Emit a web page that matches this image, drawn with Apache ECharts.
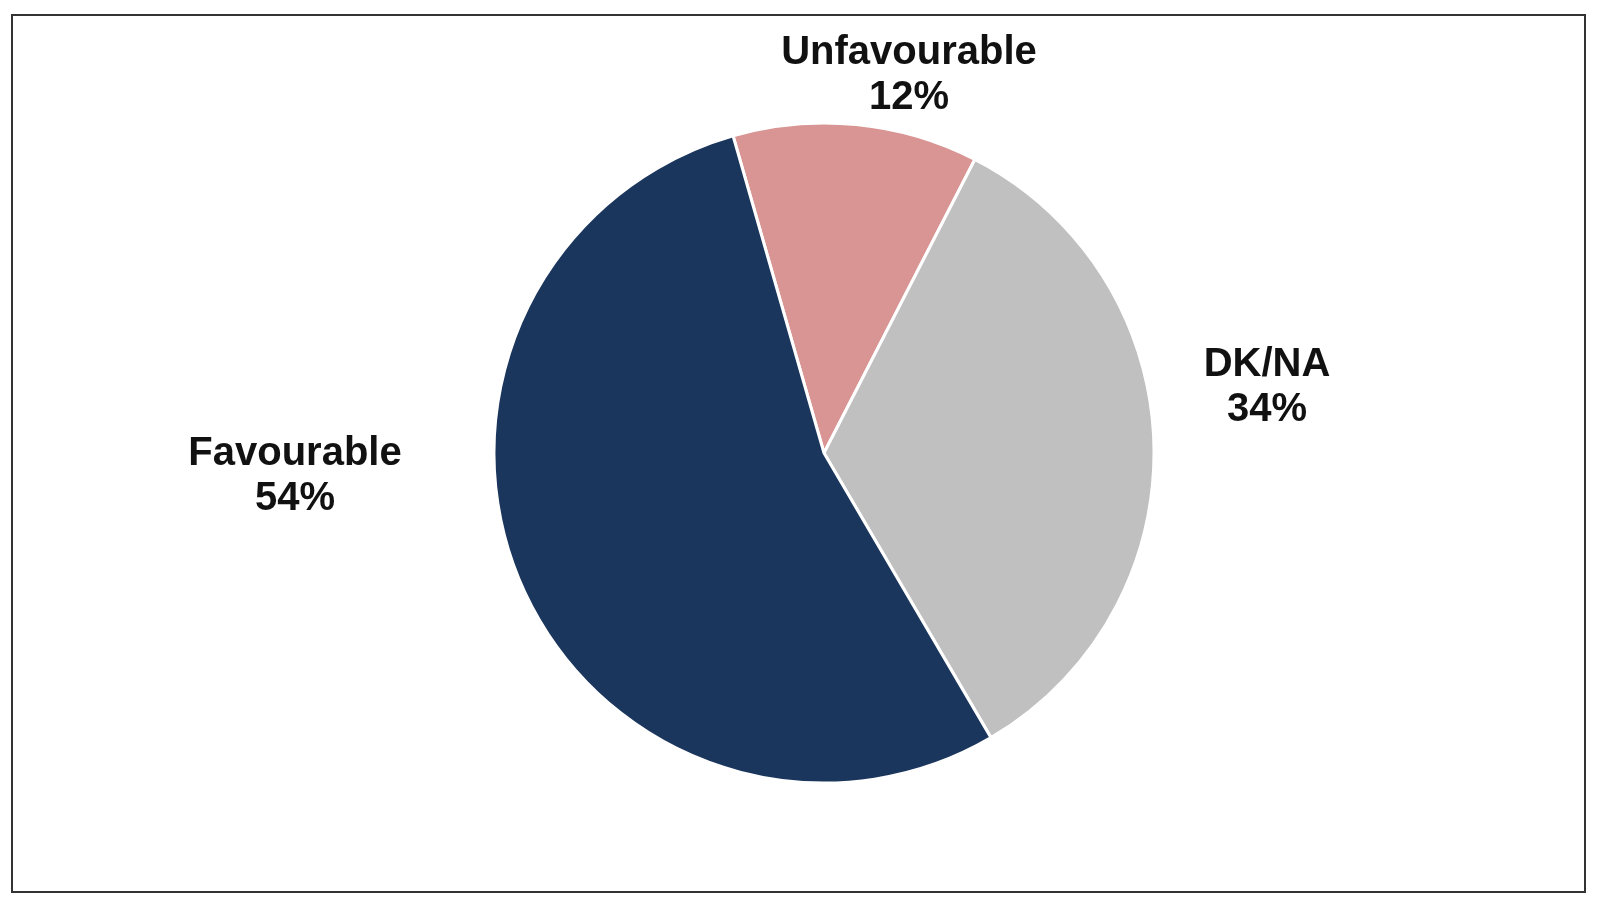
<!DOCTYPE html>
<html>
<head>
<meta charset="utf-8">
<style>
html,body{margin:0;padding:0;background:#fff;}
#chart{width:1600px;height:900px;}
</style>
<script src="https://cdn.jsdelivr.net/npm/echarts@6/dist/echarts.min.js"></script>
</head>
<body>
<div id="chart"></div>
<script>
const categories = ['Unfavourable', 'DK/NA', 'Favourable'];
const values = [12, 34, 54];
const colors = ['#d99594', '#c0c0c0', '#1b365d'];

const labelPos = [[909, 75], [1267, 387], [295, 476]];

const chart = echarts.init(document.getElementById('chart'));
chart.setOption({
  animation: false,
  backgroundColor: '#fff',
  graphic: [{
    type: 'rect',
    shape: {x: 12, y: 15, width: 1573, height: 877},
    style: {fill: 'none', stroke: '#333', lineWidth: 2},
    z: 0
  }],
  series: [{
    type: 'pie',
    center: [824, 453],
    radius: 330,
    startAngle: 106,
    clockwise: true,
    data: categories.map((c, i) => ({name: c, value: values[i], itemStyle: {color: colors[i]}})),
    itemStyle: {borderColor: '#fff', borderWidth: 3},
    label: {
      show: true,
      formatter: '{b}\n{c}%',
      fontFamily: 'Liberation Sans, Arial, sans-serif',
      fontWeight: 'bold',
      fontSize: 40,
      lineHeight: 45,
      color: '#111',
      align: 'center'
    },
    labelLine: {show: false},
    labelLayout: function (p) {
      const pos = labelPos[p.dataIndex];
      return {x: pos[0], y: pos[1], align: 'center', verticalAlign: 'middle', moveOverlap: false};
    },
    emphasis: {disabled: true}
  }]
});
</script>
</body>
</html>
